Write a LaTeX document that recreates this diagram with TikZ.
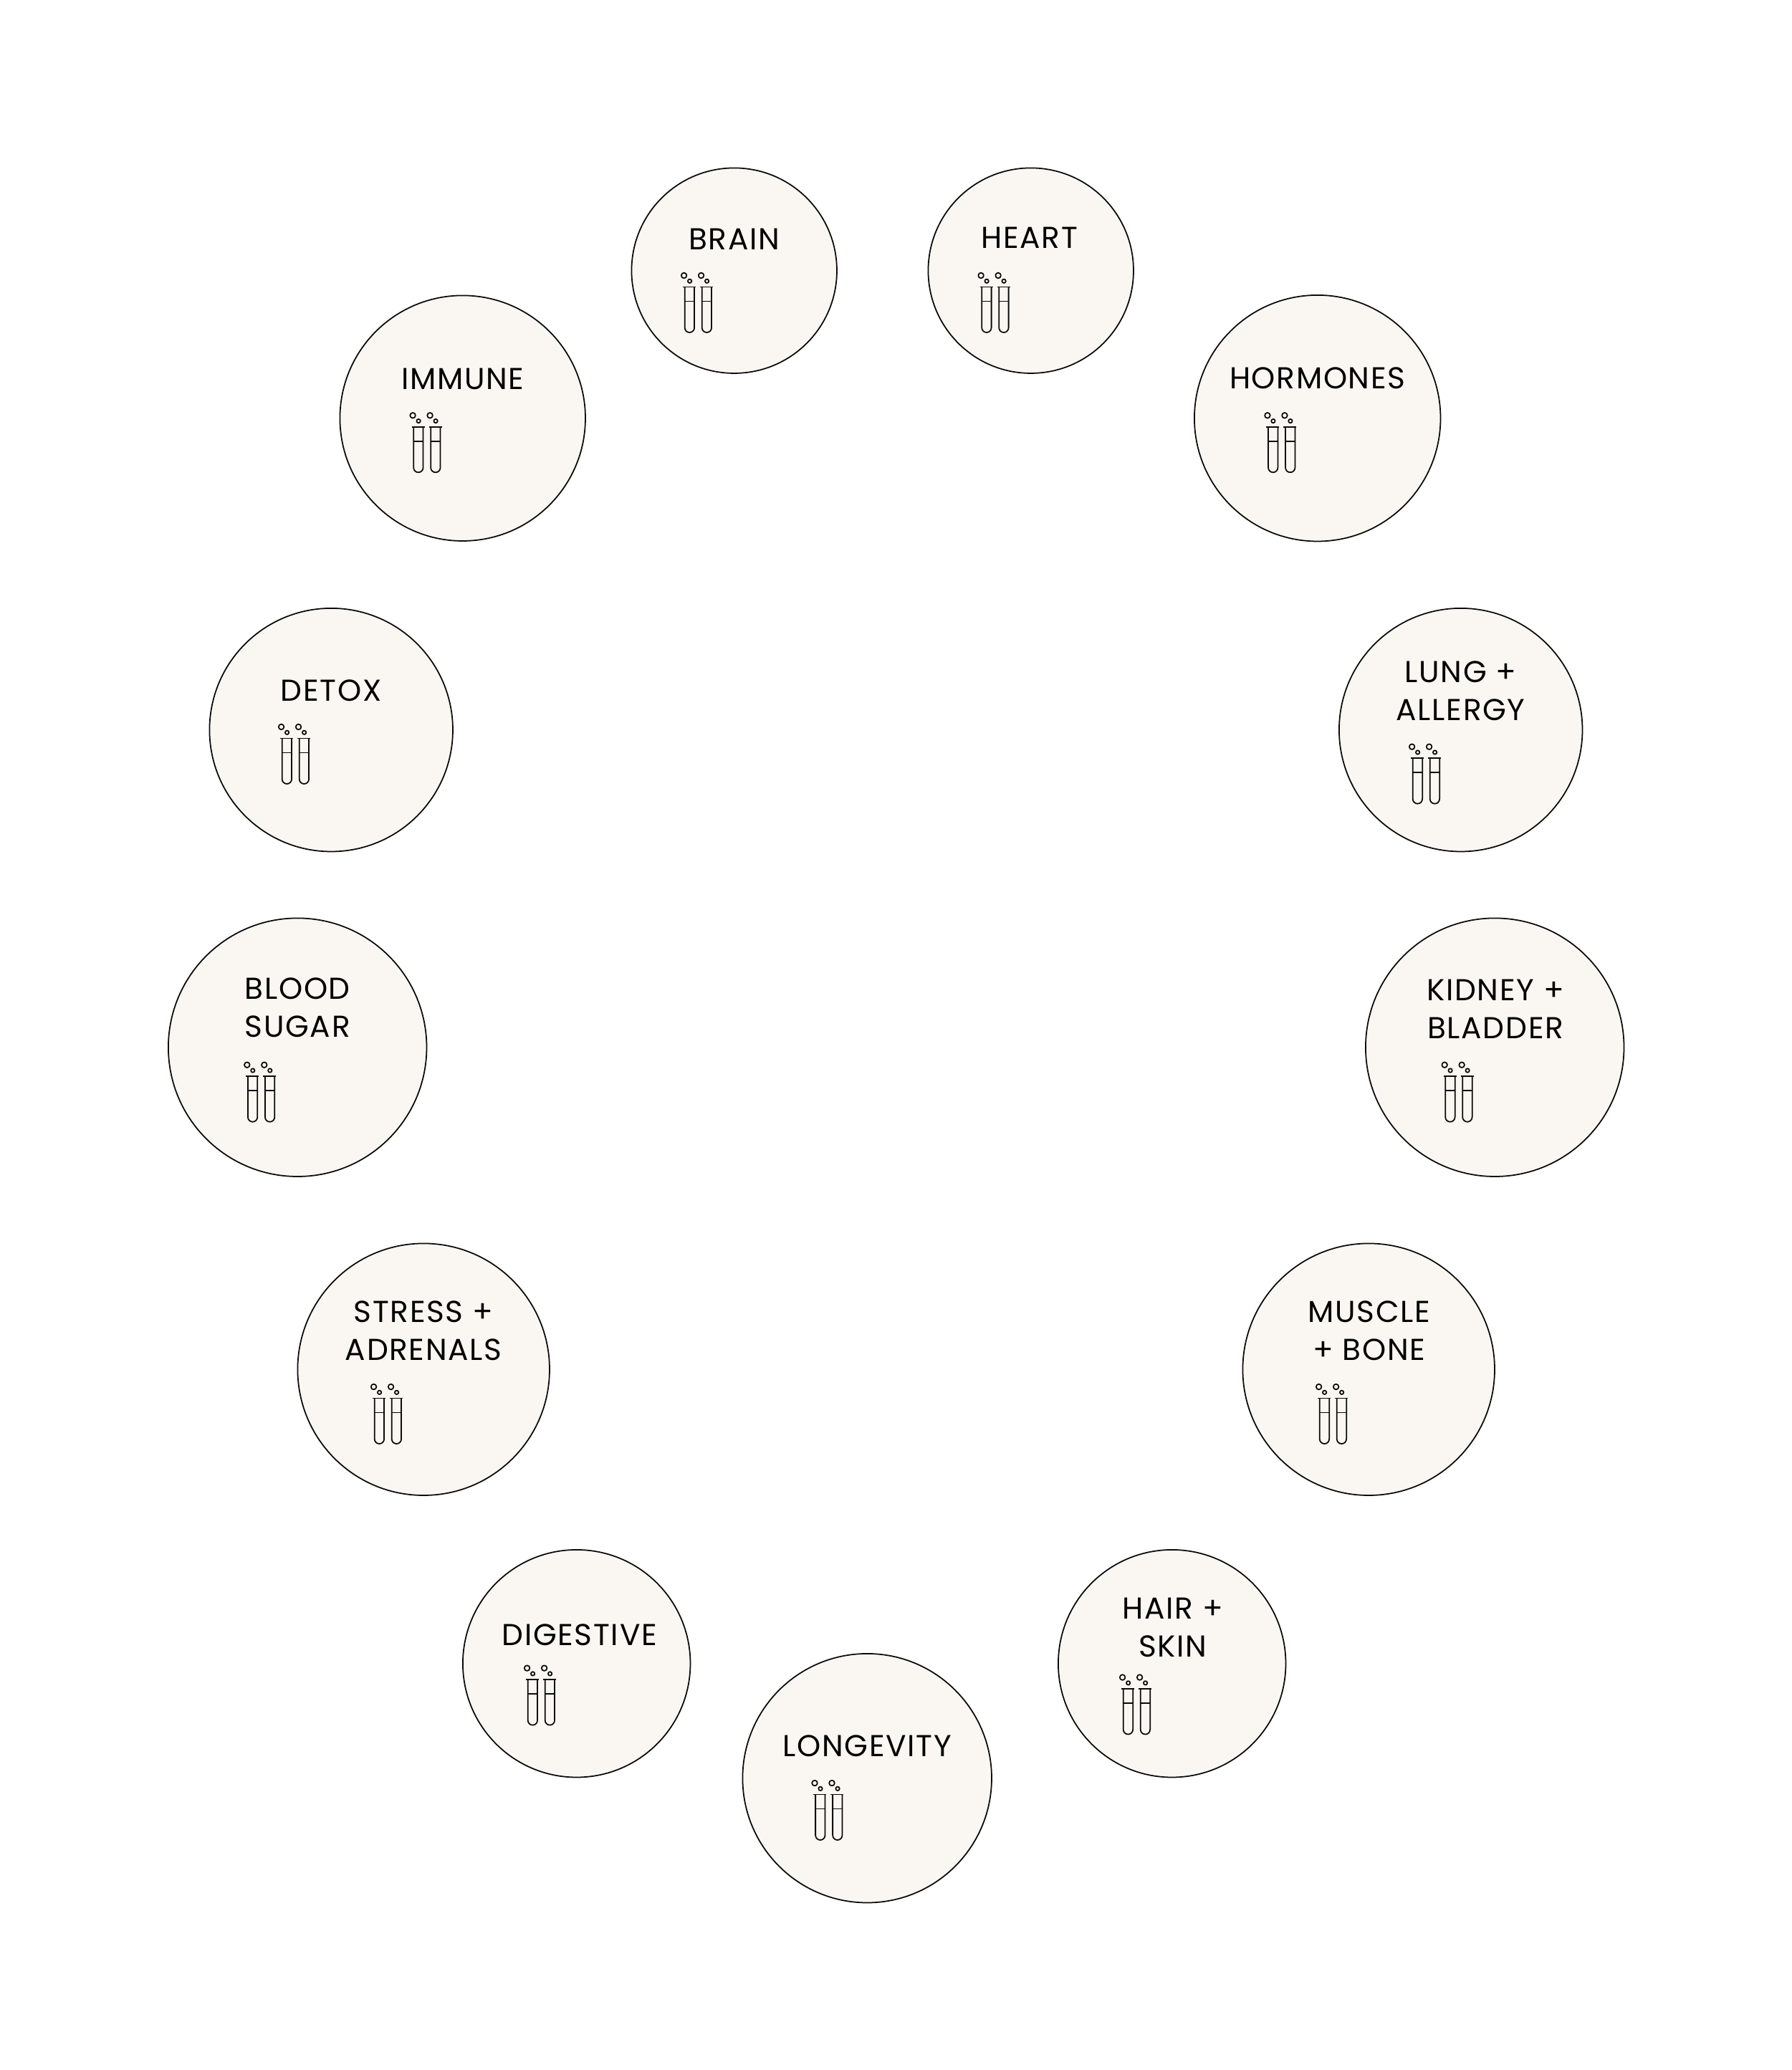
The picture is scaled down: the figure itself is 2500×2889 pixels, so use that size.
\documentclass[tikz,border=0pt]{standalone}
\usepackage{fontspec}
\setmainfont{Poppins}
\definecolor{organfill}{HTML}{FAF7F2}
\definecolor{ink}{HTML}{0A0A0A}
\tikzset{
  organ/.style={circle,draw=ink,fill=organfill,line width=0.5pt,inner sep=0pt,minimum size=#1*0.02cm-0.2pt},
  lbl/.style={align=center,inner sep=0pt,text=black,font=\fontsize{12}{15.05}\selectfont\addfontfeatures{LetterSpace=4}},
  tube/.style={draw=ink,line width=0.5pt,line join=round},
  pics/tubes/.style={code={
    \foreach \dx in {0,24}{
      \draw[tube] (\dx+0,-63.6) -- (\dx+18,-63.6);
      \draw[tube] (\dx+2.7,-63.6) -- (\dx+2.7,-6.7) arc[start angle=180,end angle=0,radius=6.7] -- (\dx+16.1,-63.6);
      \draw[tube] (\dx+2.7,-43.6) -- (\dx+16.1,-43.6);
      \draw[tube] (\dx+1.6,-79.5) circle[radius=3.8];
      \draw[tube] (\dx+9.6,-71.7) circle[radius=2.7];
    }
  }}
}
\newcommand{\organitem}[9]{%
  \node[organ=#4] (c#1) at (#2+0.7,#3+0.7) {};
  \node[lbl] (t#1) at (#5+0.7,#6) {#7};
  \pic (i#1) at (#8,#9) {tubes};
}
\begin{document}
\begin{tikzpicture}[x=0.01cm,y=-0.01cm]
\useasboundingbox[fill=white] (0,0) rectangle (2500,2889);
\organitem{brain}{1024}{377}{143.5}{1024}{333.5}{BRAIN}{953}{464}
\organitem{heart}{1438}{377}{143.5}{1436}{332}{HEART}{1367.5}{464}
\organitem{immune}{645}{583}{171.5}{645}{529}{IMMUNE}{574.5}{659.3}
\organitem{hormones}{1838}{583}{172}{1838}{528}{HORMONES}{1767.3}{659.3}
\organitem{detox}{461.5}{1018}{170}{461.5}{963.5}{DETOX}{391}{1094}
\organitem{lung}{2038}{1018}{170}{2038}{964}{LUNG +\\ALLERGY}{1969}{1121.7}
\organitem{blood}{414.5}{1461}{180.5}{414.5}{1406.5}{BLOOD\\SUGAR}{343.2}{1565.7}
\organitem{kidney}{2085.5}{1461}{180.5}{2086.5}{1408.5}{KIDNEY +\\BLADDER}{2014.5}{1565.7}
\organitem{stress}{590.5}{1910.5}{176}{590.5}{1857}{STRESS +\\ADRENALS}{520}{2015}
\organitem{muscle}{1909.5}{1910.5}{176}{1910}{1857}{MUSCLE\\+ BONE}{1839}{2015}
\organitem{digestive}{804}{2321}{159}{808}{2281.5}{DIGESTIVE}{734}{2407.6}
\organitem{hair}{1635}{2321}{159}{1636}{2271.5}{HAIR +\\SKIN}{1565}{2420.5}
\organitem{longevity}{1209.5}{2481}{174}{1209.5}{2436.5}{LONGEVITY}{1135.4}{2568}
\end{tikzpicture}
\end{document}
